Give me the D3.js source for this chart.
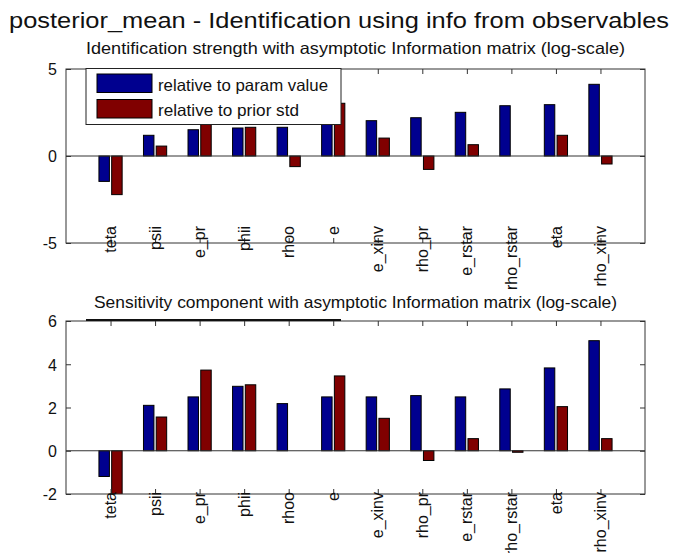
<!DOCTYPE html>
<html lang="en">
<head>
<meta charset="utf-8">
<title>posterior_mean - Identification</title>
<script src="https://d3js.org/d3.v7.min.js"></script>
<style>
  body { margin: 0; background: #fff; }
  text { font-family: "Liberation Sans", Arial, sans-serif; fill: #111; }
</style>
</head>
<body>
<div id="chart"></div>
<script>
// parameter names (x categories)
const params = ["teta", "psii", "e_pr", "phii", "rhoo", "e", "e_xinv", "rho_pr", "e_rstar", "rho_rstar", "eta", "rho_xinv"];

// identification strength (log-scale)
const strengthParam = [-1.46, 1.19, 1.51, 1.61, 1.65, 2.4, 2.03, 2.2, 2.51, 2.89, 2.95, 4.12];
const strengthPrior = [-2.22, 0.57, 1.9, 1.65, -0.61, 3.03, 1.03, -0.77, 0.65, 0, 1.19, -0.46];

// sensitivity component (log-scale)
const sensParam = [-1.19, 2.1, 2.49, 2.98, 2.18, 2.49, 2.49, 2.55, 2.49, 2.86, 3.83, 5.09];
const sensPrior = [-2.2, 1.56, 3.73, 3.05, 0, 3.46, 1.5, -0.45, 0.56, -0.07, 2.04, 0.56];

const strengthTicks = [-5, 0, 5];
const sensTicks = [-2, 0, 2, 4, 6];
const legendLabels = ["relative to param value", "relative to prior std"];
const colors = ["#00008f", "#800000"];

const width = 674, height = 553;
const left = 66, right = 645;

const svg = d3.select("#chart").append("svg")
  .attr("width", width)
  .attr("height", height);

// fits a text to a measured width
function fitText(sel, w) {
  return sel.attr("textLength", w).attr("lengthAdjust", "spacingAndGlyphs");
}

// main title
fitText(svg.append("text")
  .attr("x", 339).attr("y", 28)
  .attr("text-anchor", "middle")
  .style("font-size", "22px")
  .text("posterior_mean - Identification using info from observables"), 660);

// bar centres sit at 1..12 on a [0,13] axis, like matlab
const x = d3.scaleLinear().domain([0, 13]).range([left, right]);
const barOffset = [-0.143, 0.143];
const barWidth = 0.235;

function panel(id, opts) {
  const y = d3.scaleLinear().domain(opts.domain).range([opts.bottom, opts.top]);
  const g = svg.append("g");

  fitText(g.append("text")
    .attr("x", 355.5).attr("y", opts.titleY)
    .attr("text-anchor", "middle")
    .style("font-size", "16.5px")
    .text(opts.title), opts.titleW);

  g.append("rect")
    .attr("x", left).attr("y", opts.top)
    .attr("width", right - left).attr("height", opts.bottom - opts.top)
    .attr("fill", "#fff");

  g.append("clipPath").attr("id", id)
    .append("rect")
    .attr("x", left).attr("y", opts.top)
    .attr("width", right - left).attr("height", opts.bottom - opts.top);

  const bars = g.append("g").attr("clip-path", `url(#${id})`);
  opts.series.forEach((vals, s) => {
    bars.selectAll(null)
      .data(vals)
      .enter()
      .append("rect")
      .attr("x", (d, i) => x(i + 1 + barOffset[s] - barWidth / 2))
      .attr("width", x(barWidth) - x(0))
      .attr("y", (d) => Math.min(y(d), y(0)))
      .attr("height", (d) => Math.abs(y(d) - y(0)))
      .attr("fill", colors[s])
      .attr("stroke", "#000")
      .attr("stroke-width", 1);
  });

  // baseline at zero
  g.append("line")
    .attr("x1", left).attr("x2", right)
    .attr("y1", y(0)).attr("y2", y(0))
    .attr("stroke", "#333");

  // ticks point inwards on every side, plain hyphen for negatives
  const yl = g.append("g").attr("transform", `translate(${left},0)`)
    .call(d3.axisLeft(y).tickValues(opts.ticks).tickSizeInner(-5).tickSizeOuter(0)
      .tickPadding(9).tickFormat((d) => String(d)));
  yl.selectAll("text").style("font-size", "16px").attr("dy", "0.36em");
  g.append("g").attr("transform", `translate(${right},0)`)
    .call(d3.axisRight(y).tickValues(opts.ticks).tickSizeInner(-5).tickSizeOuter(0).tickFormat(""));
  g.append("g").attr("transform", `translate(0,${opts.bottom})`)
    .call(d3.axisBottom(x).tickValues(d3.range(1, 13)).tickSizeInner(-5).tickSizeOuter(0).tickFormat(""));
  g.append("g").attr("transform", `translate(0,${opts.top})`)
    .call(d3.axisTop(x).tickValues(d3.range(1, 13)).tickSizeInner(-5).tickSizeOuter(0).tickFormat(""));
  g.selectAll(".domain").remove();
  g.selectAll(".tick line").attr("stroke", "#333");

  g.append("rect")
    .attr("x", left).attr("y", opts.top)
    .attr("width", right - left).attr("height", opts.bottom - opts.top)
    .attr("fill", "none")
    .attr("stroke", "#333");

  // rotated parameter names
  g.selectAll(".pname")
    .data(params)
    .enter()
    .append("text")
    .attr("class", "pname")
    .attr("transform", (d, i) => `translate(${x(i + 1)},${opts.labelY}) rotate(-90)`)
    .attr("text-anchor", "end")
    .attr("dy", "0.35em")
    .style("font-size", "16px")
    .text((d) => d);

  return g;
}

panel("clipA", {
  domain: [-5, 5], top: 69, bottom: 243,
  ticks: strengthTicks,
  series: [strengthParam, strengthPrior],
  title: "Identification strength with asymptotic Information matrix (log-scale)",
  titleY: 53.5, titleW: 539,
  labelY: 226
});

panel("clipB", {
  domain: [-2, 6], top: 321, bottom: 494,
  ticks: sensTicks,
  series: [sensParam, sensPrior],
  title: "Sensitivity component with asymptotic Information matrix (log-scale)",
  titleY: 308, titleW: 523,
  labelY: 492
});

// legend of the upper panel
const legend = svg.append("g");
legend.append("rect")
  .attr("x", 86).attr("y", 68.5)
  .attr("width", 255).attr("height", 56)
  .attr("fill", "#fff")
  .attr("stroke", "#222");
legendLabels.forEach((lab, i) => {
  legend.append("rect")
    .attr("x", 97).attr("y", 74 + i * 25.5)
    .attr("width", 55).attr("height", 18.5)
    .attr("fill", colors[i])
    .attr("stroke", "#000");
  fitText(legend.append("text")
    .attr("x", 158).attr("y", 90.5 + i * 25.5)
    .style("font-size", "16.5px")
    .text(lab), i === 0 ? 170 : 141);
});

// collapsed legend box left on the lower panel
svg.append("line")
  .attr("x1", 86).attr("x2", 341)
  .attr("y1", 320).attr("y2", 320)
  .attr("stroke", "#111")
  .attr("stroke-width", 2);
</script>
</body>
</html>
